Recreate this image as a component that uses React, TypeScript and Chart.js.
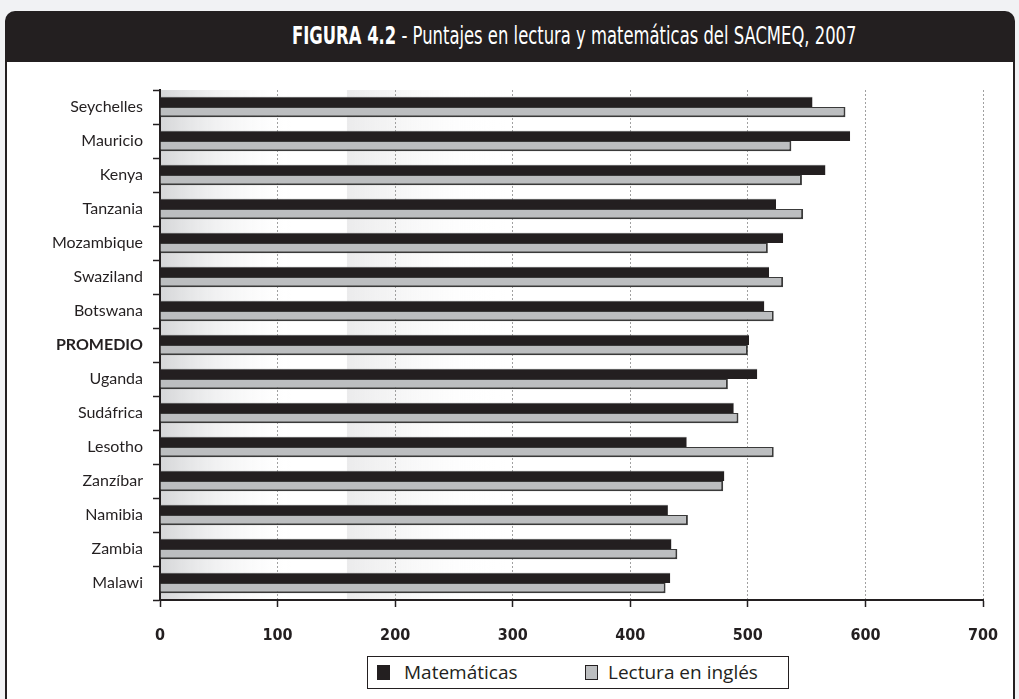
import React, { useEffect, useRef } from "react";
import { Chart, registerables } from "chart.js";

Chart.register(...registerables);

const categories = [
  "Seychelles",
  "Mauricio",
  "Kenya",
  "Tanzania",
  "Mozambique",
  "Swaziland",
  "Botswana",
  "PROMEDIO",
  "Uganda",
  "Sudáfrica",
  "Lesotho",
  "Zanzíbar",
  "Namibia",
  "Zambia",
  "Malawi",
];
const matematicas = [555, 587, 566, 524, 530, 518, 514, 501, 508, 488, 448, 480, 432, 435, 434];
const lectura = [583, 537, 546, 547, 517, 530, 522, 500, 483, 492, 522, 479, 449, 440, 430];
const xTicks = [0, 100, 200, 300, 400, 500, 600, 700];
const seriesNames = ["Matemáticas", "Lectura en inglés"];
const titleBold = "FIGURA 4.2";
const titleRest = " - Puntajes en lectura y matemáticas del SACMEQ, 2007";

const DARK = "#231f20";
const LIGHT = "#bcbec0";
const NARROW = "'DejaVu Sans Condensed', 'Liberation Sans Narrow', sans-serif";
const BODY = "Lato, 'Open Sans', sans-serif";
const LEGEND = "'Open Sans', 'Noto Sans', sans-serif";

const bgPlugin = {
  id: "bgGradients",
  beforeDraw(chart: any) {
    const { ctx, chartArea } = chart;
    const x = chart.scales.x;
    const { top, bottom } = chartArea;
    ctx.save();
    const x0 = x.getPixelForValue(0);
    const x1 = x.getPixelForValue(115);
    const g1 = ctx.createLinearGradient(x0, 0, x1, 0);
    g1.addColorStop(0, "#d5d6d8");
    g1.addColorStop(1, "rgba(255,255,255,0)");
    ctx.fillStyle = g1;
    ctx.fillRect(x0, top, x1 - x0, bottom - top);
    const x2 = x.getPixelForValue(159);
    const x3 = x.getPixelForValue(295);
    const g2 = ctx.createLinearGradient(x2, 0, x3, 0);
    g2.addColorStop(0, "#ebebec");
    g2.addColorStop(1, "rgba(255,255,255,0)");
    ctx.fillStyle = g2;
    ctx.fillRect(x2, top, x3 - x2, bottom - top);
    ctx.restore();
  },
};

export default function App() {
  const ref = useRef<HTMLCanvasElement>(null);

  useEffect(() => {
    if (!ref.current) return;
    const chart = new Chart(ref.current, {
      type: "bar",
      data: {
        labels: categories,
        datasets: [
          {
            label: seriesNames[0],
            data: matematicas,
            backgroundColor: DARK,
            borderColor: "#4a4a4a",
            borderWidth: { top: 1, right: 0, bottom: 0, left: 0 },
            borderSkipped: false,
            categoryPercentage: 0.6,
            barPercentage: 1,
          },
          {
            label: seriesNames[1],
            data: lectura,
            backgroundColor: LIGHT,
            borderColor: "#3a3a3a",
            borderWidth: { top: 1, right: 2, bottom: 2, left: 0 },
            borderSkipped: false,
            categoryPercentage: 0.6,
            barPercentage: 1,
          },
        ],
      },
      options: {
        indexAxis: "y",
        animation: false,
        responsive: false,
        maintainAspectRatio: false,
        layout: { padding: { top: 90, right: 36, left: 0, bottom: 0 } },
        plugins: {
          legend: { display: false },
          tooltip: { enabled: false },
          title: { display: false },
        },
        scales: {
          x: {
            type: "linear",
            min: 0,
            max: 700,
            afterFit: (s: any) => {
              s.height = 99;
            },
            afterBuildTicks: (s: any) => {
              s.ticks = xTicks.map((v) => ({ value: v }));
            },
            grid: {
              color: (c: any) => (c.tick && c.tick.value === 0 ? "rgba(0,0,0,0)" : "#a0a0a0"),
              lineWidth: 1,
              drawTicks: true,
              tickLength: 7,
              tickColor: DARK,
              tickWidth: 1.5,
              tickBorderDash: [],
            },
            border: { display: true, color: DARK, width: 2, dash: [2, 2] },
            ticks: {
              color: DARK,
              padding: 19,
              font: { family: NARROW, size: 16, weight: "bold" },
            },
          },
          y: {
            type: "category",
            afterFit: (s: any) => {
              s.width = 160;
            },
            offset: true,
            grid: {
              offset: true,
              drawOnChartArea: false,
              drawTicks: true,
              tickLength: 7,
              tickColor: DARK,
              tickWidth: 1.5,
            },
            border: { display: true, color: DARK, width: 2 },
            ticks: {
              color: DARK,
              padding: 10,
              font: (c: any) => ({
                family: BODY,
                size: 16,
                weight: c.index === 7 ? "bold" : "normal",
              }),
            },
          },
        },
      },
      plugins: [bgPlugin],
    });
    return () => chart.destroy();
  }, []);

  return (
    <div
      style={{
        position: "fixed",
        left: 0,
        top: 0,
        width: 1019,
        height: 699,
        background: "#f1f2f4",
        overflow: "hidden",
      }}
    >
      <div
        style={{
          position: "absolute",
          left: 5,
          top: 11,
          width: 1010,
          height: 51,
          background: DARK,
          borderRadius: "10px 10px 0 0",
          color: "#fff",
        }}
      >
        <div
          style={{
            position: "absolute",
            left: 287,
            top: 11,
            fontFamily: NARROW,
            fontSize: 24,
            lineHeight: "28px",
            whiteSpace: "pre",
            transform: "scaleX(0.76)",
            transformOrigin: "left center",
          }}
        >
          <span style={{ fontWeight: "bold" }}>{titleBold}</span>
          <span>{titleRest}</span>
        </div>
      </div>
      <div
        style={{
          position: "absolute",
          left: 5,
          top: 62,
          width: 1006,
          height: 700,
          background: "#fff",
          borderLeft: `2px solid ${DARK}`,
          borderRight: `2px solid ${DARK}`,
        }}
      />
      <canvas
        ref={ref}
        width={1019}
        height={699}
        style={{ position: "absolute", left: 0, top: 0, width: 1019, height: 699 }}
      />
      <div
        style={{
          position: "absolute",
          left: 367,
          top: 656,
          width: 420,
          height: 31,
          border: `1px solid ${DARK}`,
          background: "#fff",
          fontFamily: LEGEND,
          fontSize: 19,
          color: DARK,
        }}
      >
        <div style={{ position: "absolute", left: 9, top: 8, width: 13, height: 15, background: DARK }} />
        <div style={{ position: "absolute", left: 36, top: 2, lineHeight: "26px" }}>{seriesNames[0]}</div>
        <div
          style={{
            position: "absolute",
            left: 217,
            top: 8,
            width: 11,
            height: 13,
            background: LIGHT,
            border: `1px solid ${DARK}`,
          }}
        />
        <div style={{ position: "absolute", left: 240, top: 2, lineHeight: "26px" }}>{seriesNames[1]}</div>
      </div>
    </div>
  );
}
